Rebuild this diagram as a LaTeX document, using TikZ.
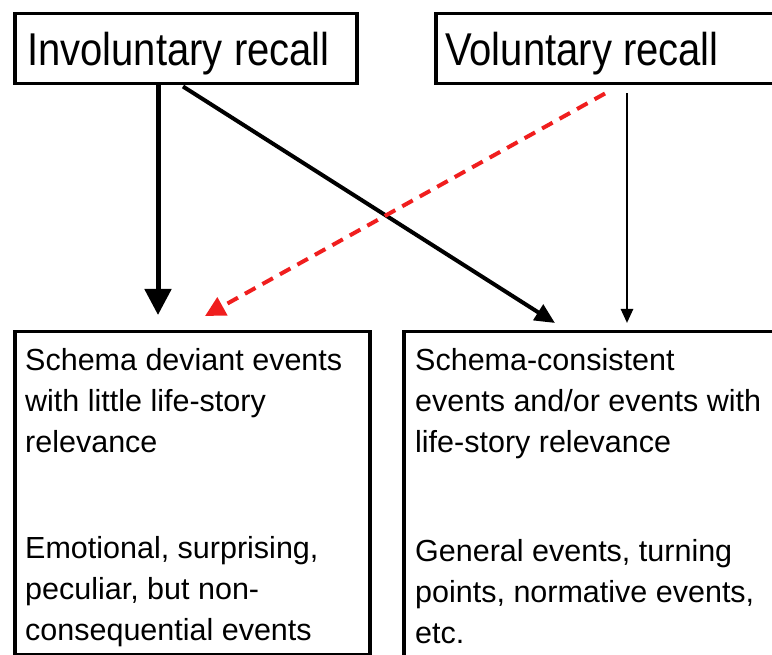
\documentclass[tikz,border=0pt]{standalone}
\usepackage{fontspec}
\setmainfont{Liberation Sans}
\usepackage{graphicx}
\usetikzlibrary{positioning, arrows.meta, calc}
\definecolor{recallred}{RGB}{240, 30, 30}

\begin{document}
\begin{tikzpicture}[x=1pt, y=-1pt,
    recallbox/.style={draw, line width=3.5pt, rectangle, anchor=north west, inner sep=0pt},
    headfont/.style={font=\fontsize{46}{50}\selectfont, anchor=base west, inner sep=0pt},
    bodyfont/.style={font=\fontsize{30.5}{41}\selectfont, align=left, anchor=north west, inner sep=0pt}]
  \useasboundingbox (0,0) rectangle (772,655);
  \clip (0,0) rectangle (772,655);
  % recall boxes
  \node[recallbox, minimum width=342pt, minimum height=70pt] (inv) at (13,12) {};
  \node[recallbox, minimum width=350pt, minimum height=70pt] (vol) at (434,12) {};
  \node[headfont] (invtext) at (27,66) {\scalebox{0.87}[1]{Involuntary recall}};
  \node[headfont] (voltext) at (445,66) {\scalebox{0.87}[1]{Voluntary recall}};
  % event boxes
  \node[recallbox, minimum width=355pt, minimum height=323pt] (dev) at (13,330) {};
  \node[recallbox, minimum width=380pt, minimum height=340pt] (con) at (402,330) {};
  \node[bodyfont] (devtext) at (25,348) {Schema deviant events\\
    with little life-story\\
    relevance\\[65pt]
    Emotional, surprising,\\
    peculiar, but non-\\
    consequential events};
  \node[bodyfont] (context) at (415,348) {Schema-consistent\\
    events and/or events with\\
    life-story relevance\\[68pt]
    General events, turning\\
    points, normative events,\\
    etc.};
  % arrows
  \draw[line width=5pt, -{Triangle[length=26pt, width=26pt]}]
    ($(inv.south west)+(145,0)$) -- ($(dev.north west)+(145,-15)$);
  \draw[line width=4pt, -{Triangle[length=20pt, width=18pt]}]
    ($(inv.south west)+(170,1)$) -- ($(con.north west)+(153,-7)$);
  \draw[recallred, line width=4pt, dash pattern=on 12pt off 8pt, -{Triangle[length=20pt, width=20pt]}]
    ($(vol.south west)+(171,8)$) -- ($(dev.north west)+(192,-14)$);
  \draw[line width=2.5pt, -{Triangle[length=14pt, width=12pt]}]
    ($(vol.south west)+(193,8)$) -- ($(con.north west)+(225,-7)$);
\end{tikzpicture}
\end{document}
